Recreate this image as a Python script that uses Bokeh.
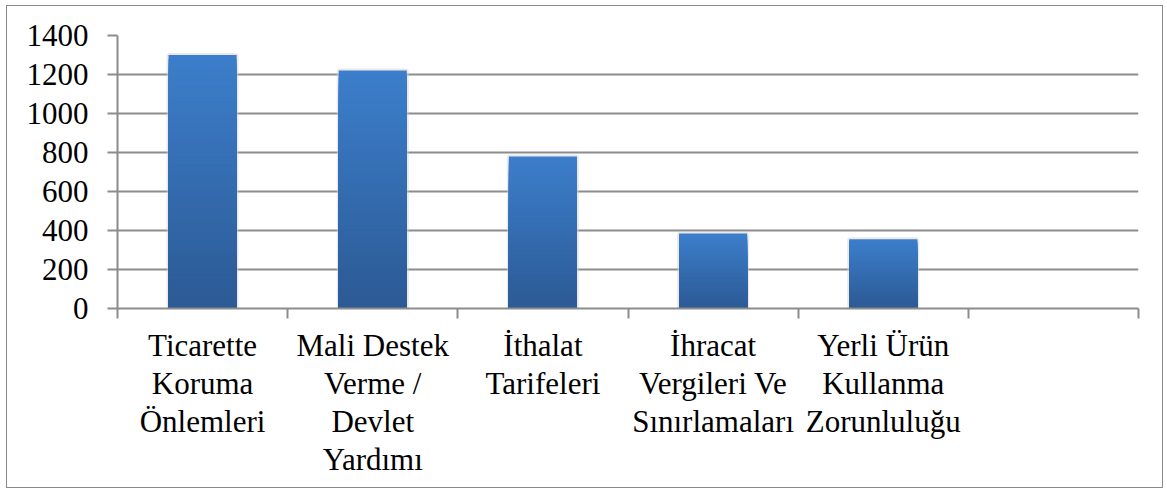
from bokeh.plotting import figure
from bokeh.models import Range1d, FixedTicker
from bokeh.embed import file_html
from bokeh.resources import INLINE

categories = ["Ticarette\nKoruma\nÖnlemleri",
              "Mali Destek\nVerme /\nDevlet\nYardımı",
              "İthalat\nTarifeleri",
              "İhracat\nVergileri Ve\nSınırlamaları",
              "Yerli Ürün\nKullanma\nZorunluluğu",
              ""]
values = [1300, 1220, 780, 385, 355]
y_ticks = [0, 200, 400, 600, 800, 1000, 1200, 1400]

FONT = "Liberation Serif"
GRID = "#8c8c8c"
top_rgb = (0x3c, 0x7e, 0xcb)
bot_rgb = (0x2c, 0x5a, 0x95)

p = figure(width=1157, height=483, output_backend="svg", toolbar_location=None,
           x_range=Range1d(0, len(categories)), y_range=Range1d(0, 1400),
           min_border_left=110, min_border_right=26, min_border_top=29, min_border_bottom=181)
p.styles = {"border": "1px solid #8a8a8a", "margin-left": "6px", "margin-top": "5px"}
p.outline_line_color = None
p.background_fill_color = "white"
p.border_fill_color = "white"

# gridlines
p.xgrid.grid_line_color = None
p.ygrid.ticker = FixedTicker(ticks=y_ticks)
p.ygrid.grid_line_color = GRID
p.ygrid.grid_line_width = 2

# bars with vertical gradient: overlapping slices drawn tallest first
xs = [i + 0.5 for i in range(len(values))]
N = 60
order_x, order_t, order_c = [], [], []
for k in range(N - 1, -1, -1):
    f = k / (N - 1)
    r = round(bot_rgb[0] + (top_rgb[0] - bot_rgb[0]) * f)
    g = round(bot_rgb[1] + (top_rgb[1] - bot_rgb[1]) * f)
    b = round(bot_rgb[2] + (top_rgb[2] - bot_rgb[2]) * f)
    for x, v in zip(xs, values):
        order_x.append(x)
        order_t.append(v * (k + 1) / N)
        order_c.append("#%02x%02x%02x" % (r, g, b))

# soft shadow
p.vbar(x=xs, top=values, bottom=0, width=0.4, fill_color=None,
       line_color="#d4d4d4", line_width=4, line_alpha=0.5)
p.vbar(x=order_x, bottom=0, top=order_t, width=0.4, fill_color=order_c, line_color=None)

# y axis
ya = p.yaxis[0]
ya.ticker = FixedTicker(ticks=y_ticks)
ya.axis_line_color = GRID
ya.axis_line_width = 2
ya.major_tick_line_color = GRID
ya.major_tick_line_width = 2
ya.major_tick_out = 10
ya.major_tick_in = 0
ya.minor_tick_line_color = None
ya.major_label_text_font = FONT
ya.major_label_text_font_size = "31px"
ya.major_label_text_color = "black"
ya.major_label_standoff = 19

# x axis
xa = p.xaxis[0]
centers = [i + 0.5 for i in range(len(categories))]
xa.ticker = FixedTicker(ticks=centers, minor_ticks=list(range(len(categories) + 1)))
xa.major_label_overrides = {c: lab for c, lab in zip(centers, categories)}
xa.axis_line_color = GRID
xa.axis_line_width = 2
xa.major_tick_line_color = None
xa.major_tick_out = 0
xa.major_tick_in = 0
xa.minor_tick_line_color = GRID
xa.minor_tick_line_width = 2
xa.minor_tick_out = 10
xa.minor_tick_in = 0
xa.major_label_text_font = FONT
xa.major_label_text_font_size = "31px"
xa.major_label_text_line_height = 1.09
xa.major_label_text_color = "black"
xa.major_label_standoff = 9

open("out.html", "w").write(file_html(p, INLINE))
